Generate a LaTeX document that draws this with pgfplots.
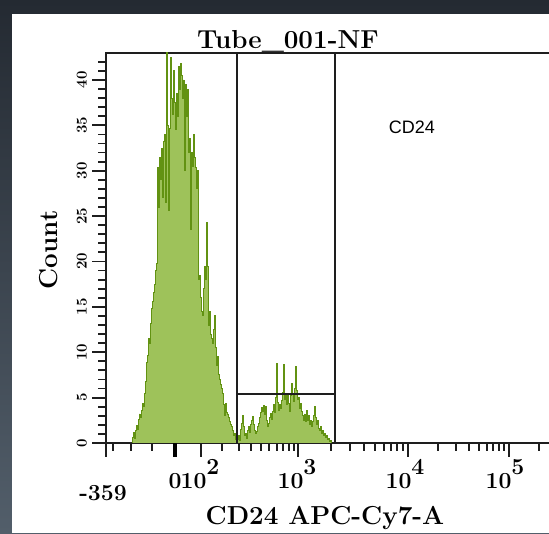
\documentclass[border=0pt]{standalone}
\usepackage{fontspec}
\usepackage{pgfplots}
\pgfplotsset{compat=1.18}
\newfontfamily\arial{Liberation Sans}
\definecolor{histfill}{RGB}{158,194,90}
\definecolor{histline}{RGB}{98,146,18}
\definecolor{axcol}{RGB}{30,30,30}
\definecolor{bgtop}{RGB}{36,42,50}
\definecolor{bgbot}{RGB}{82,94,106}
\pgfplotstableread{
x y
130 0
132 0.6
133 1.2
134 0.5
135 1.4
136 1.9
137 1.5
138 2.6
139 3.2
140 2.8
141 3.6
142 4.4
143 4.0
144 5.5
145 6.8
146 8.9
147 9.6
148 11.5
149 11.0
150 13.2
151 14.8
152 15.6
153 16.6
154 17.5
155 19.0
156 19.8
157 30.4
158 26.0
159 31.5
160 29.0
161 32.5
162 27.0
163 33.2
164 34.0
165 26.5
166 43.5
167 35.0
168 25.6
169 34.7
170 42.5
171 38.0
172 36.2
173 41.0
174 37.5
175 34.5
176 38.5
177 36.0
178 41.5
179 39.0
180 41.8
181 40.5
182 38.0
183 40.0
184 30.0
185 39.5
186 36.0
187 39.0
188 32.0
189 33.5
190 23.5
191 32.0
192 30.5
193 34.0
194 31.5
195 30.4
196 28.0
197 30.0
198 18.0
199 18.5
200 16.0
201 14.5
202 14.0
203 17.0
204 19.4
205 18.0
206 24.3
207 19.4
208 13.0
209 14.5
210 12.0
211 11.5
212 11.0
213 12.5
214 14.0
215 10.5
216 8.5
217 9.5
218 7.5
219 7.0
220 6.5
221 6.0
222 5.5
223 4.2
224 3.0
225 4.4
226 3.4
227 3.2
228 2.8
229 2.4
230 2.0
231 1.8
232 1.4
233 0.8
234 1.0
235 0.4
236 0
237 0.4
238 0.8
239 0.3
240 1.5
241 2.2
242 3.0
243 1.8
244 0.8
245 1.0
246 0.5
247 1.4
248 1.8
249 1.2
250 2.0
251 2.5
252 2.9
253 2.0
254 1.4
255 1.0
256 1.3
257 1.8
258 2.2
259 2.8
260 3.4
261 3.9
262 3.5
263 4.1
264 3.2
265 4.0
266 2.5
267 1.8
268 2.2
269 2.8
270 3.3
271 2.6
272 3.5
273 4.2
274 3.4
275 5.0
276 8.8
277 4.5
278 3.6
279 4.2
280 3.8
281 4.7
282 5.6
283 8.6
284 4.8
285 5.5
286 4.2
287 5.2
288 4.4
289 3.5
290 5.2
291 6.6
292 5.4
293 4.6
294 6.0
295 8.4
296 5.8
297 4.8
298 5.0
299 3.8
300 4.4
301 3.5
302 3.0
303 2.5
304 3.2
305 2.4
306 3.6
307 2.5
308 3.0
309 2.0
310 2.5
311 1.8
312 2.4
313 3.0
314 4.0
315 2.8
316 2.0
317 2.5
318 1.6
319 1.4
320 1.8
321 1.0
322 1.4
323 0.8
324 1.0
325 0.6
326 0.8
327 0.4
328 0.5
329 0.2
330 0.3
331 0
}\histdata
\begin{document}
\begin{tikzpicture}[x=1pt,y=1pt]
\shade[top color=bgtop, bottom color=bgbot] (0,0) rectangle (549,533);
\fill[white] (12,0) rectangle (549,519);
\begin{pgfinterruptboundingbox}
\begin{axis}[
  at={(106pt,90pt)}, anchor=south west,
  scale only axis, width=474pt, height=390pt,
  xmin=106, xmax=580, ymin=0, ymax=42.97,
  axis line style={line width=2pt, draw=axcol},
  tick style={line width=1.8pt, draw=axcol},
  tick align=outside, tick pos=left,
  major tick length=14pt, minor tick length=8pt,
  xtick={106,201,298,408,509}, xticklabels={},
  minor xtick={113,131,152,222,239,251,261,269,277,283,289,294,331,350,364,375,384,391,397,403,438,456,469,479,487,493,499,504,539},
  extra x ticks={175}, extra x tick labels={},
  extra x tick style={tick style={line width=4pt, draw=black}},
  ytick={0,5,...,40},
  /pgf/number format/assume math mode=true,
  minor ytick={0,1,...,43},
  yticklabel style={rotate=90, anchor=south, font=\fontsize{15}{15}\selectfont\bfseries, inner sep=1pt},
  yticklabel shift=4pt,
]
\addplot[const plot, fill=histfill, draw=histline, line width=0.9pt] table[x=x,y=y] {\histdata} \closedcycle;
\addplot[axcol, line width=2pt] coordinates {(237,0) (237,43)};
\addplot[axcol, line width=2pt] coordinates {(335,0) (335,43)};
\addplot[axcol, line width=2pt] coordinates {(237,5.4) (335,5.4)};
\end{axis}
\end{pgfinterruptboundingbox}
\node[font=\fontsize{26}{26}\selectfont\bfseries, anchor=base] at (288,484) {Tube\_001-NF};
\node[font=\fontsize{26}{26}\selectfont\bfseries, rotate=90] at (49,283) {Count};
\node[font=\fontsize{26}{26}\selectfont\bfseries, anchor=base] at (325,9) {CD24 APC-Cy7-A};
\node[font=\arial\fontsize{18}{18}\selectfont] at (412,406) {CD24};
\begin{scope}[font=\fontsize{23}{23}\selectfont\bfseries]
\node[anchor=base] at (103,33) {-359};
\node[anchor=base] at (175,45) {0};
\node[anchor=base] at (200,45) {10\raisebox{13pt}{2}};
\node[anchor=base] at (297,45) {10\raisebox{13pt}{3}};
\node[anchor=base] at (405,45) {10\raisebox{13pt}{4}};
\node[anchor=base] at (505,45) {10\raisebox{13pt}{5}};
\end{scope}
\end{tikzpicture}
\end{document}
